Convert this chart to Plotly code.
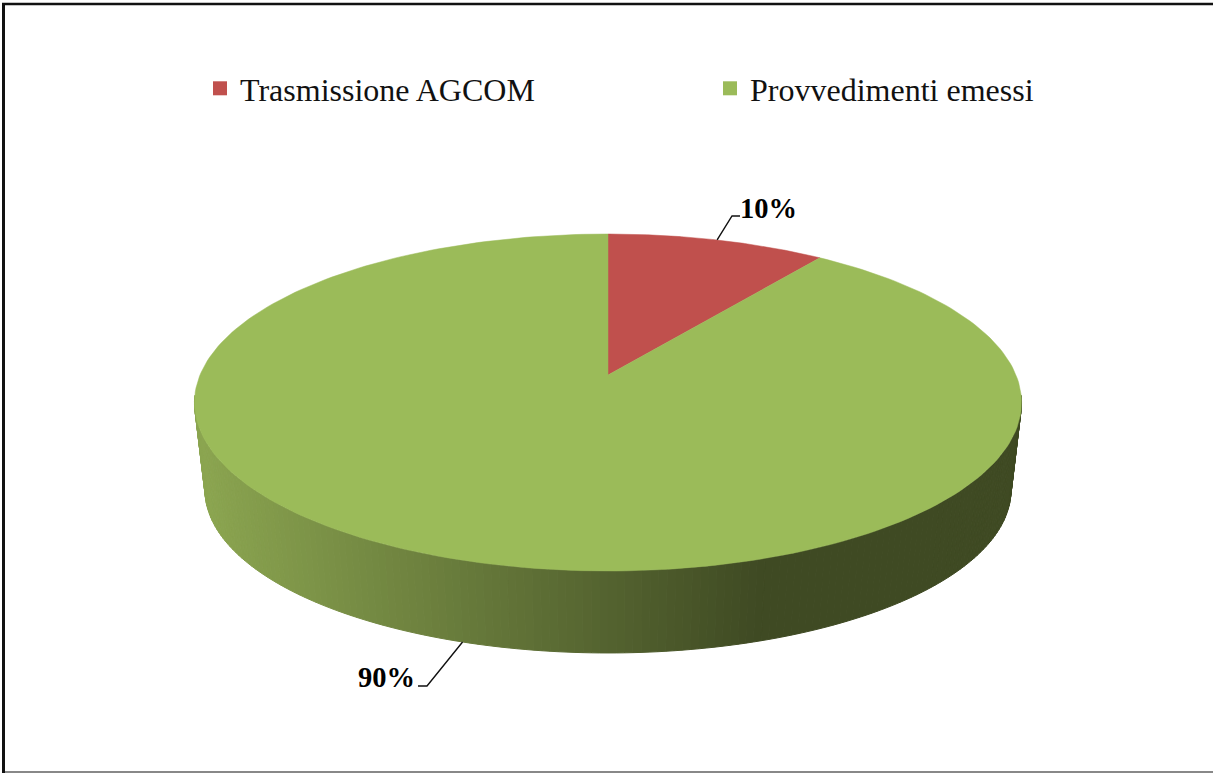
import numpy as np
import plotly.graph_objects as go

# Data
categories = ["Trasmissione AGCOM", "Provvedimenti emessi"]
values = [10, 90]
colors = ["#C0504D", "#9BBB59"]
value_labels = ["10%", "90%"]

W, H = 1213, 773
K = 0.1632
CX = 608
TOP = dict(A=408.0, a=-102.8, b=375.0)
BOT = dict(A=397.6, a=-83.0, b=463.4)
LIGHT = np.array([139, 165, 80])
DARK = np.array([63, 74, 35])


def proj(theta_deg, p=TOP):
    t = np.radians(theta_deg)
    u, v = np.sin(t), np.cos(t)
    d = 1 + K * v
    return CX + p["A"] * u / d, (p["a"] * v + p["b"]) / d


total = sum(values)
angles = np.cumsum([0] + [v / total * 360 for v in values])
mids = (angles[:-1] + angles[1:]) / 2

fig = go.Figure()

# side wall, shaded left to right
edges = np.linspace(97, 263, 167)
for t0, t1 in zip(edges[:-1], edges[1:]):
    x0, y0 = proj(t0)
    x1, y1 = proj(t1)
    x2, y2 = proj(t1, BOT)
    x3, y3 = proj(t0, BOT)
    f = np.clip((760 - (x0 + x1) / 2) / 560, 0, 1)
    c = DARK + (LIGHT - DARK) * f
    col = f"rgb({c[0]:.0f},{c[1]:.0f},{c[2]:.0f})"
    fig.add_trace(go.Scatter(
        x=[x0, x1, x2, x3, x0], y=[y0, y1, y2, y3, y0], mode="lines",
        fill="toself", fillcolor=col, line=dict(color=col, width=1),
        hoverinfo="skip", showlegend=False))

# top slices
for i, name in enumerate(categories):
    th = np.linspace(angles[i], angles[i + 1], 241)
    x, y = proj(th)
    cx, cy = CX, TOP["b"]
    fig.add_trace(go.Scatter(
        x=np.r_[cx, x, cx], y=np.r_[cy, y, cy], mode="lines", fill="toself",
        fillcolor=colors[i], line=dict(color=colors[i], width=0.5),
        name=name, hoverinfo="name", showlegend=False))

# legend entries
for i, name in enumerate(categories):
    fig.add_trace(go.Scatter(
        x=[None], y=[None], mode="markers", name=name,
        marker=dict(symbol="square", size=14, color=colors[i])))

# leader lines and value labels
bend = [(732, 216), (427, 686)]
stub = [(740, 216), (418, 686)]
label_pos = [(738, 208, "left"), (417, 677, "right")]
for i in range(len(values)):
    x0, y0 = proj(mids[i], TOP if i == 0 else BOT)
    fig.add_trace(go.Scatter(
        x=[x0, bend[i][0], stub[i][0]], y=[y0, bend[i][1], stub[i][1]],
        mode="lines", line=dict(color="#111111", width=1.4),
        hoverinfo="skip", showlegend=False))
    fig.add_annotation(
        x=label_pos[i][0], y=label_pos[i][1], text=f"<b>{value_labels[i]}</b>",
        showarrow=False, xanchor=label_pos[i][2], yanchor="middle",
        font=dict(family="Liberation Serif", size=28.5, color="#000000"))

frame = [
    dict(x0=3.5, x1=3.5, y0=3, y1=773, color="#111111", width=3),
    dict(x0=2, x1=W, y0=4, y1=4, color="#111111", width=2.5),
    dict(x0=5, x1=W, y0=772, y1=772, color="#888888", width=2),
]
shapes = [dict(type="line", xref="x", yref="y", x0=s["x0"], x1=s["x1"], y0=s["y0"],
               y1=s["y1"], line=dict(color=s["color"], width=s["width"])) for s in frame]

fig.update_layout(
    width=W, height=H, margin=dict(l=0, r=0, t=0, b=0, autoexpand=False),
    paper_bgcolor="white", plot_bgcolor="white",
    xaxis=dict(range=[0, W], visible=False, fixedrange=True),
    yaxis=dict(range=[H, 0], visible=False, fixedrange=True),
    shapes=shapes,
    legend=dict(orientation="h", x=200 / W, y=1 - 61 / H, xanchor="left", yanchor="top",
                entrywidth=465, entrywidthmode="pixels", bgcolor="rgba(0,0,0,0)",
                font=dict(family="Liberation Serif", size=32, color="#111111"),
                itemclick=False, itemdoubleclick=False),
)

fig.write_html("out.html", config={"displayModeBar": False},
               post_script="document.body.style.margin='0';")
